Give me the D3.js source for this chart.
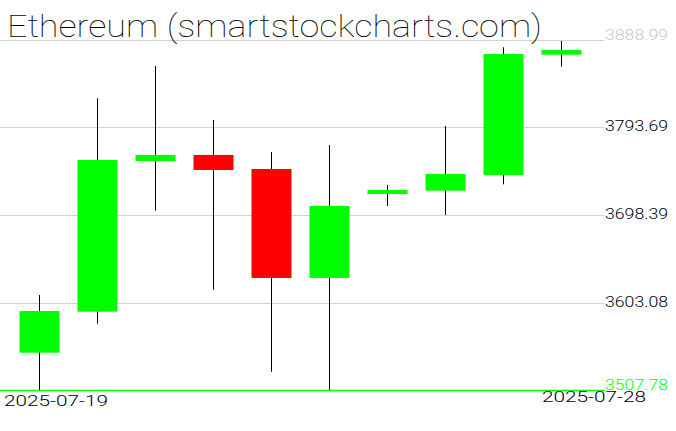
<!DOCTYPE html>
<html>
<head>
<meta charset="utf-8">
<script src="https://cdn.jsdelivr.net/npm/d3@7"></script>
<style>
  body { margin: 0; background: #fff; }
  .title { font-family: "Roboto", "DejaVu Sans", sans-serif; font-weight: 100; }
  .label { font-family: "Roboto", "DejaVu Sans", sans-serif; font-weight: 300; }
</style>
</head>
<body>
<svg class="candle-frame"></svg>
<script>
const dates = ["2025-07-19", "2025-07-20", "2025-07-21", "2025-07-22", "2025-07-23",
               "2025-07-24", "2025-07-25", "2025-07-26", "2025-07-27", "2025-07-28"];
const opens  = [3548.4, 3593.1, 3757.2, 3763.8, 3748.5, 3629.8, 3721.3, 3724.9, 3742.0, 3873.0];
const highs  = [3611.3, 3825.5, 3860.7, 3801.9, 3767.0, 3774.6, 3731.1, 3795.3, 3881.1, 3887.9];
const lows   = [3507.8, 3580.0, 3703.1, 3617.0, 3527.7, 3507.8, 3708.2, 3698.4, 3731.8, 3859.9];
const closes = [3593.8, 3758.3, 3763.8, 3747.4, 3629.8, 3708.2, 3725.6, 3743.0, 3873.8, 3878.1];
const yTicks = [3507.78, 3603.08, 3698.39, 3793.69, 3888.99];
const xLabels = ["2025-07-19", "2025-07-28"];
const title = "Ethereum (smartstockcharts.com)";

const width = 676, height = 431;
const plot = {left: 10, right: 590, top: 40, bottom: 390, gridEnd: 604};

const candles = dates.map((d, i) => ({
  date: d, open: opens[i], high: highs[i], low: lows[i], close: closes[i]
}));

const svg = d3.select(".candle-frame")
  .attr("width", width)
  .attr("height", height);

svg.append("rect")
  .attr("width", width)
  .attr("height", height)
  .attr("fill", "#fff");

const xScale = d3.scaleBand()
  .range([plot.left, plot.right])
  .domain(dates);

const yScale = d3.scaleLinear()
  .range([plot.bottom, plot.top])
  .domain([yTicks[0], yTicks[yTicks.length - 1]]);

const bodyWidth = 40;
const cx = (d) => Math.round(xScale(d.date) + xScale.bandwidth() / 2);

// grid lines
svg.append("g")
  .selectAll("line")
  .data(yTicks.slice(1))
  .enter().append("line")
  .attr("x1", 0)
  .attr("x2", plot.gridEnd)
  .attr("y1", (d) => Math.round(yScale(d)) + 0.5)
  .attr("y2", (d) => Math.round(yScale(d)) + 0.5)
  .attr("stroke", "#d0d0d0")
  .attr("stroke-width", 1);

// title
svg.append("text")
  .attr("class", "title")
  .attr("x", 7)
  .attr("y", 37)
  .attr("font-size", "32px")
  .attr("textLength", 535)
  .attr("lengthAdjust", "spacingAndGlyphs")
  .attr("fill", "#000")
  .text(title);

// wicks
svg.append("g")
  .selectAll("line")
  .data(candles)
  .enter().append("line")
  .attr("x1", (d) => cx(d) + 0.5)
  .attr("x2", (d) => cx(d) + 0.5)
  .attr("y1", (d) => yScale(d.high))
  .attr("y2", (d) => yScale(d.low))
  .attr("stroke", "#000")
  .attr("stroke-width", 1);

// bodies
svg.append("g")
  .selectAll("rect")
  .data(candles)
  .enter().append("rect")
  .attr("x", (d) => cx(d) - bodyWidth / 2 + 0.5)
  .attr("width", bodyWidth)
  .attr("y", (d) => yScale(Math.max(d.open, d.close)))
  .attr("height", (d) => Math.max(Math.abs(yScale(d.open) - yScale(d.close)), 4))
  .attr("fill", (d) => d.close >= d.open ? "#00ff00" : "#ff0000");

// base line
svg.append("line")
  .attr("x1", 0)
  .attr("x2", plot.gridEnd + 1)
  .attr("y1", yScale(yTicks[0]) + 0.5)
  .attr("y2", yScale(yTicks[0]) + 0.5)
  .attr("stroke", "#00ff00")
  .attr("stroke-width", 1.5);

// price labels
const last = yTicks.length - 1;
svg.append("g")
  .selectAll("text")
  .data(yTicks)
  .enter().append("text")
  .attr("class", "label")
  .attr("x", 605)
  .attr("y", (d, i) => yScale(d) + (i === 0 || i === last ? 0 : 4))
  .attr("font-size", "14px")
  .attr("textLength", 63)
  .attr("lengthAdjust", "spacingAndGlyphs")
  .attr("fill", (d, i) => i === 0 ? "#00ff00" : (i === last ? "#c8c8c8" : "#000"))
  .text((d) => d3.format(".2f")(d));

// date labels
svg.append("text")
  .attr("class", "label")
  .attr("x", 4)
  .attr("y", 406)
  .attr("font-size", "15px")
  .attr("textLength", 104)
  .attr("lengthAdjust", "spacingAndGlyphs")
  .attr("fill", "#000")
  .text(xLabels[0]);

svg.append("text")
  .attr("class", "label")
  .attr("x", 542)
  .attr("y", 402)
  .attr("font-size", "15px")
  .attr("textLength", 104)
  .attr("lengthAdjust", "spacingAndGlyphs")
  .attr("fill", "#000")
  .text(xLabels[1]);
</script>
</body>
</html>
